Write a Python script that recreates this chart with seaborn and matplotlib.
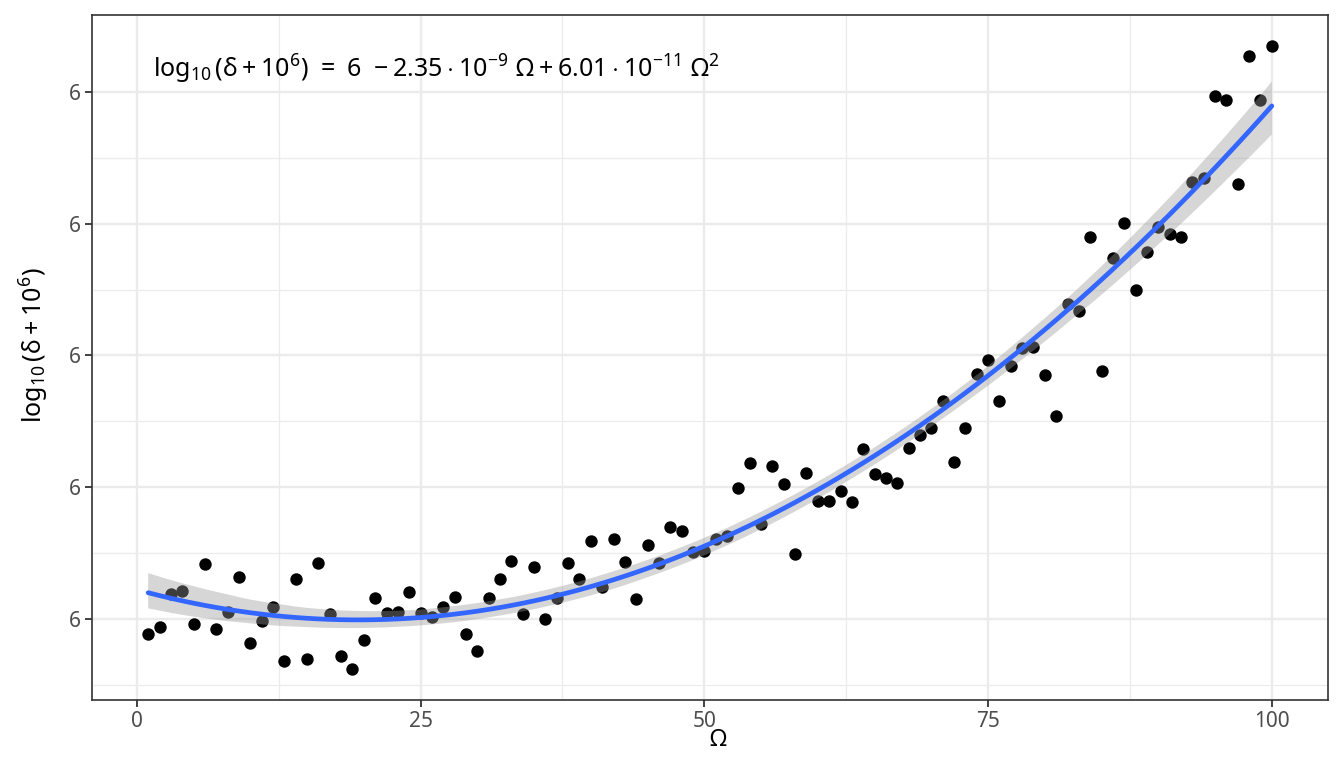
import numpy as np
import pandas as pd
import seaborn as sns
import matplotlib.pyplot as plt
from matplotlib.ticker import FixedLocator, FixedFormatter

sns.set_theme(style="white")
plt.rcParams['font.family'] = ['Noto Sans', 'DejaVu Sans']
plt.rcParams['mathtext.fontset'] = 'custom'
plt.rcParams['mathtext.rm'] = 'Noto Sans'
plt.rcParams['mathtext.it'] = 'Noto Sans'
plt.rcParams['mathtext.bf'] = 'Noto Sans'

# omega values
omega = list(range(1, 101))

# y positions (pixel rows), turned into offsets above 6
y_px = [634, 627, 594, 591, 624, 564, 629, 612, 577, 643,
        621, 607, 661, 579, 659, 563, 614, 656, 669, 640,
        598, 613, 612, 592, 613, 617, 607, 597, 634, 651,
        598, 579, 561, 614, 567, 619, 598, 563, 579, 541,
        587, 539, 562, 599, 545, 563, 527, 531, 552, 551,
        539, 536, 488, 463, 524, 466, 484, 554, 473, 501,
        501, 491, 502, 449, 474, 478, 483, 448, 435, 428,
        401, 462, 428, 374, 360, 401, 366, 348, 347, 375,
        416, 303, 310, 236, 371, 257, 222, 289, 251, 226,
        233, 236, 181, 177, 95, 99, 183, 55, 99, 45]
y_vals = [round((619 - p) / 1.32, 1) for p in y_px]

df = pd.DataFrame({'omega': omega, 'y': y_vals})

fig = plt.figure(figsize=(13.44, 7.68), dpi=100)
ax = fig.add_axes([92 / 1344, 1 - 700 / 768, (1328 - 92) / 1344, (700 - 15) / 768])

sns.regplot(data=df, x='omega', y='y', order=2, ci=95, n_boot=2000, seed=3, ax=ax,
            scatter_kws={'color': 'black', 's': 80, 'alpha': 1, 'linewidths': 0},
            line_kws={'color': '#3366FF', 'lw': 3.4, 'zorder': 3})
band = ax.collections[-1]
band.set_facecolor('#999999')
band.set_alpha(0.4)
band.set_edgecolor('none')

ax.set_xlim(-3.95, 104.95)
ax.set_ylim(-61.5, 458.4)
ax.xaxis.set_major_locator(FixedLocator([0, 25, 50, 75, 100]))
ax.xaxis.set_minor_locator(FixedLocator([12.5, 37.5, 62.5, 87.5]))
ax.yaxis.set_major_locator(FixedLocator([0, 100, 200, 300, 400]))
ax.yaxis.set_major_formatter(FixedFormatter(['6'] * 5))
ax.yaxis.set_minor_locator(FixedLocator([-50, 50, 150, 250, 350]))

ax.grid(which='major', color='#EBEBEB', lw=1.7, zorder=0)
ax.grid(which='minor', color='#EBEBEB', lw=0.9, zorder=0)
ax.set_axisbelow(True)
for s in ax.spines.values():
    s.set_color('#333333')
    s.set_linewidth(1.2)
ax.tick_params(which='major', length=5, width=1.3, color='#333333',
               labelsize=15, labelcolor='#4D4D4D', pad=3, left=True, bottom=True)
ax.tick_params(which='minor', length=0)

ax.set_xlabel(r'$\Omega$', fontsize=17, color='black')
ax.xaxis.set_label_coords(0.5065, -0.041)
ax.set_ylabel(r'$\log_{10}(\delta + 10^6)$', fontsize=18, color='black')
ax.yaxis.set_label_coords(-0.033, 0.518)

ax.text(1.4, 417,
        r'$\log_{10}(\delta + 10^6)\ =\ 6\ -2.35 \cdot 10^{-9}\ \Omega + 6.01 \cdot 10^{-11}\ \Omega^2$',
        fontsize=18, color='black', ha='left', va='center')

fig.savefig('out.png', dpi=100)
